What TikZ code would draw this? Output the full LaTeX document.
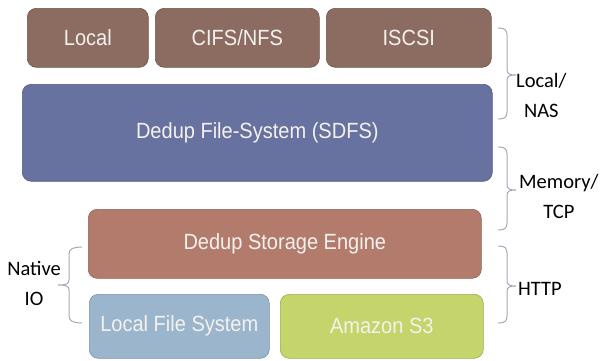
\documentclass[tikz,border=0pt]{standalone}
\usepackage{fontspec}
\setmainfont{Liberation Sans}
\newfontfamily\boxfont[FakeStretch=0.91]{Liberation Sans}
\newfontfamily\labfont{Carlito}
\definecolor{cbrown}{HTML}{8C6B61}
\definecolor{cblue}{HTML}{6772A0}
\definecolor{cengine}{HTML}{B27B6C}
\definecolor{clfs}{HTML}{9BB5CD}
\definecolor{cs}{HTML}{C6D46C}
\definecolor{cbrace}{HTML}{A3AAB9}
\definecolor{ctext}{HTML}{F4F1EE}
\tikzset{
  box/.style={rounded corners=9pt, anchor=north west, inner sep=0pt,
    text=ctext, font=\boxfont\fontsize{22}{26}\selectfont, draw=#1!80!black, fill=#1, line width=0.6pt},
  lab/.style={font=\labfont\fontsize{20.5}{30}\selectfont, align=center, text=black, inner sep=0pt},
  bracestyle/.style={draw=cbrace, line width=1pt}
}
\begin{document}
\begin{tikzpicture}[x=1pt,y=-1pt]
\useasboundingbox (0,0) rectangle (600,360);
\fill[white] (0,0) rectangle (600,360);
% boxes
\node[box=cbrown, minimum width=121pt, minimum height=59pt] (local) at (27,8) {Local};
\node[box=cbrown, minimum width=164pt, minimum height=59pt] (cifs) at (155,8) {CIFS/NFS};
\node[box=cbrown, minimum width=165pt, minimum height=59pt] (iscsi) at (326,8) {ISCSI};
\node[box=cblue, minimum width=470pt, minimum height=97pt] (sdfs) at (22,84) {Dedup File-System (SDFS)};
\node[box=cengine, minimum width=393pt, minimum height=69pt] (engine) at (88,209) {Dedup Storage Engine};
\node[box=clfs, minimum width=180pt, minimum height=64pt] (lfs) at (89,294) {Local File System};
\node[box=cs, minimum width=203pt, minimum height=64pt] (s3) at (280,294) {Amazon S3};
% labels
\node[lab, anchor=west] (nas) at (516,95) {Local/\\NAS};
\node[lab, anchor=west] (tcp) at (519,196) {Memory/\\TCP};
\node[lab, anchor=west] (http) at (518,289) {HTTP};
\node[lab, anchor=east] (native) at (61,283) {Native\\IO};
% right braces: top y, bottom y, mid y
\foreach \t/\b/\m in {28/119/75, 147/230/190, 246/323/286}{
  \draw[bracestyle] (498,\t) .. controls (505,\t) and (507,\t+2) .. (507,\t+7)
    -- (507,\m-5) .. controls (507,\m-1) and (510,\m) .. (516,\m)
    .. controls (510,\m) and (507,\m+1) .. (507,\m+5)
    -- (507,\b-7) .. controls (507,\b-2) and (505,\b) .. (498,\b);
}
% left brace
\draw[bracestyle] (82,247) .. controls (73,247) and (69,249) .. (69,254)
  -- (69,280) .. controls (69,284) and (66,285) .. (58,285)
  .. controls (66,285) and (69,286) .. (69,290)
  -- (69,316) .. controls (69,321) and (73,323) .. (82,323);
\end{tikzpicture}
\end{document}
